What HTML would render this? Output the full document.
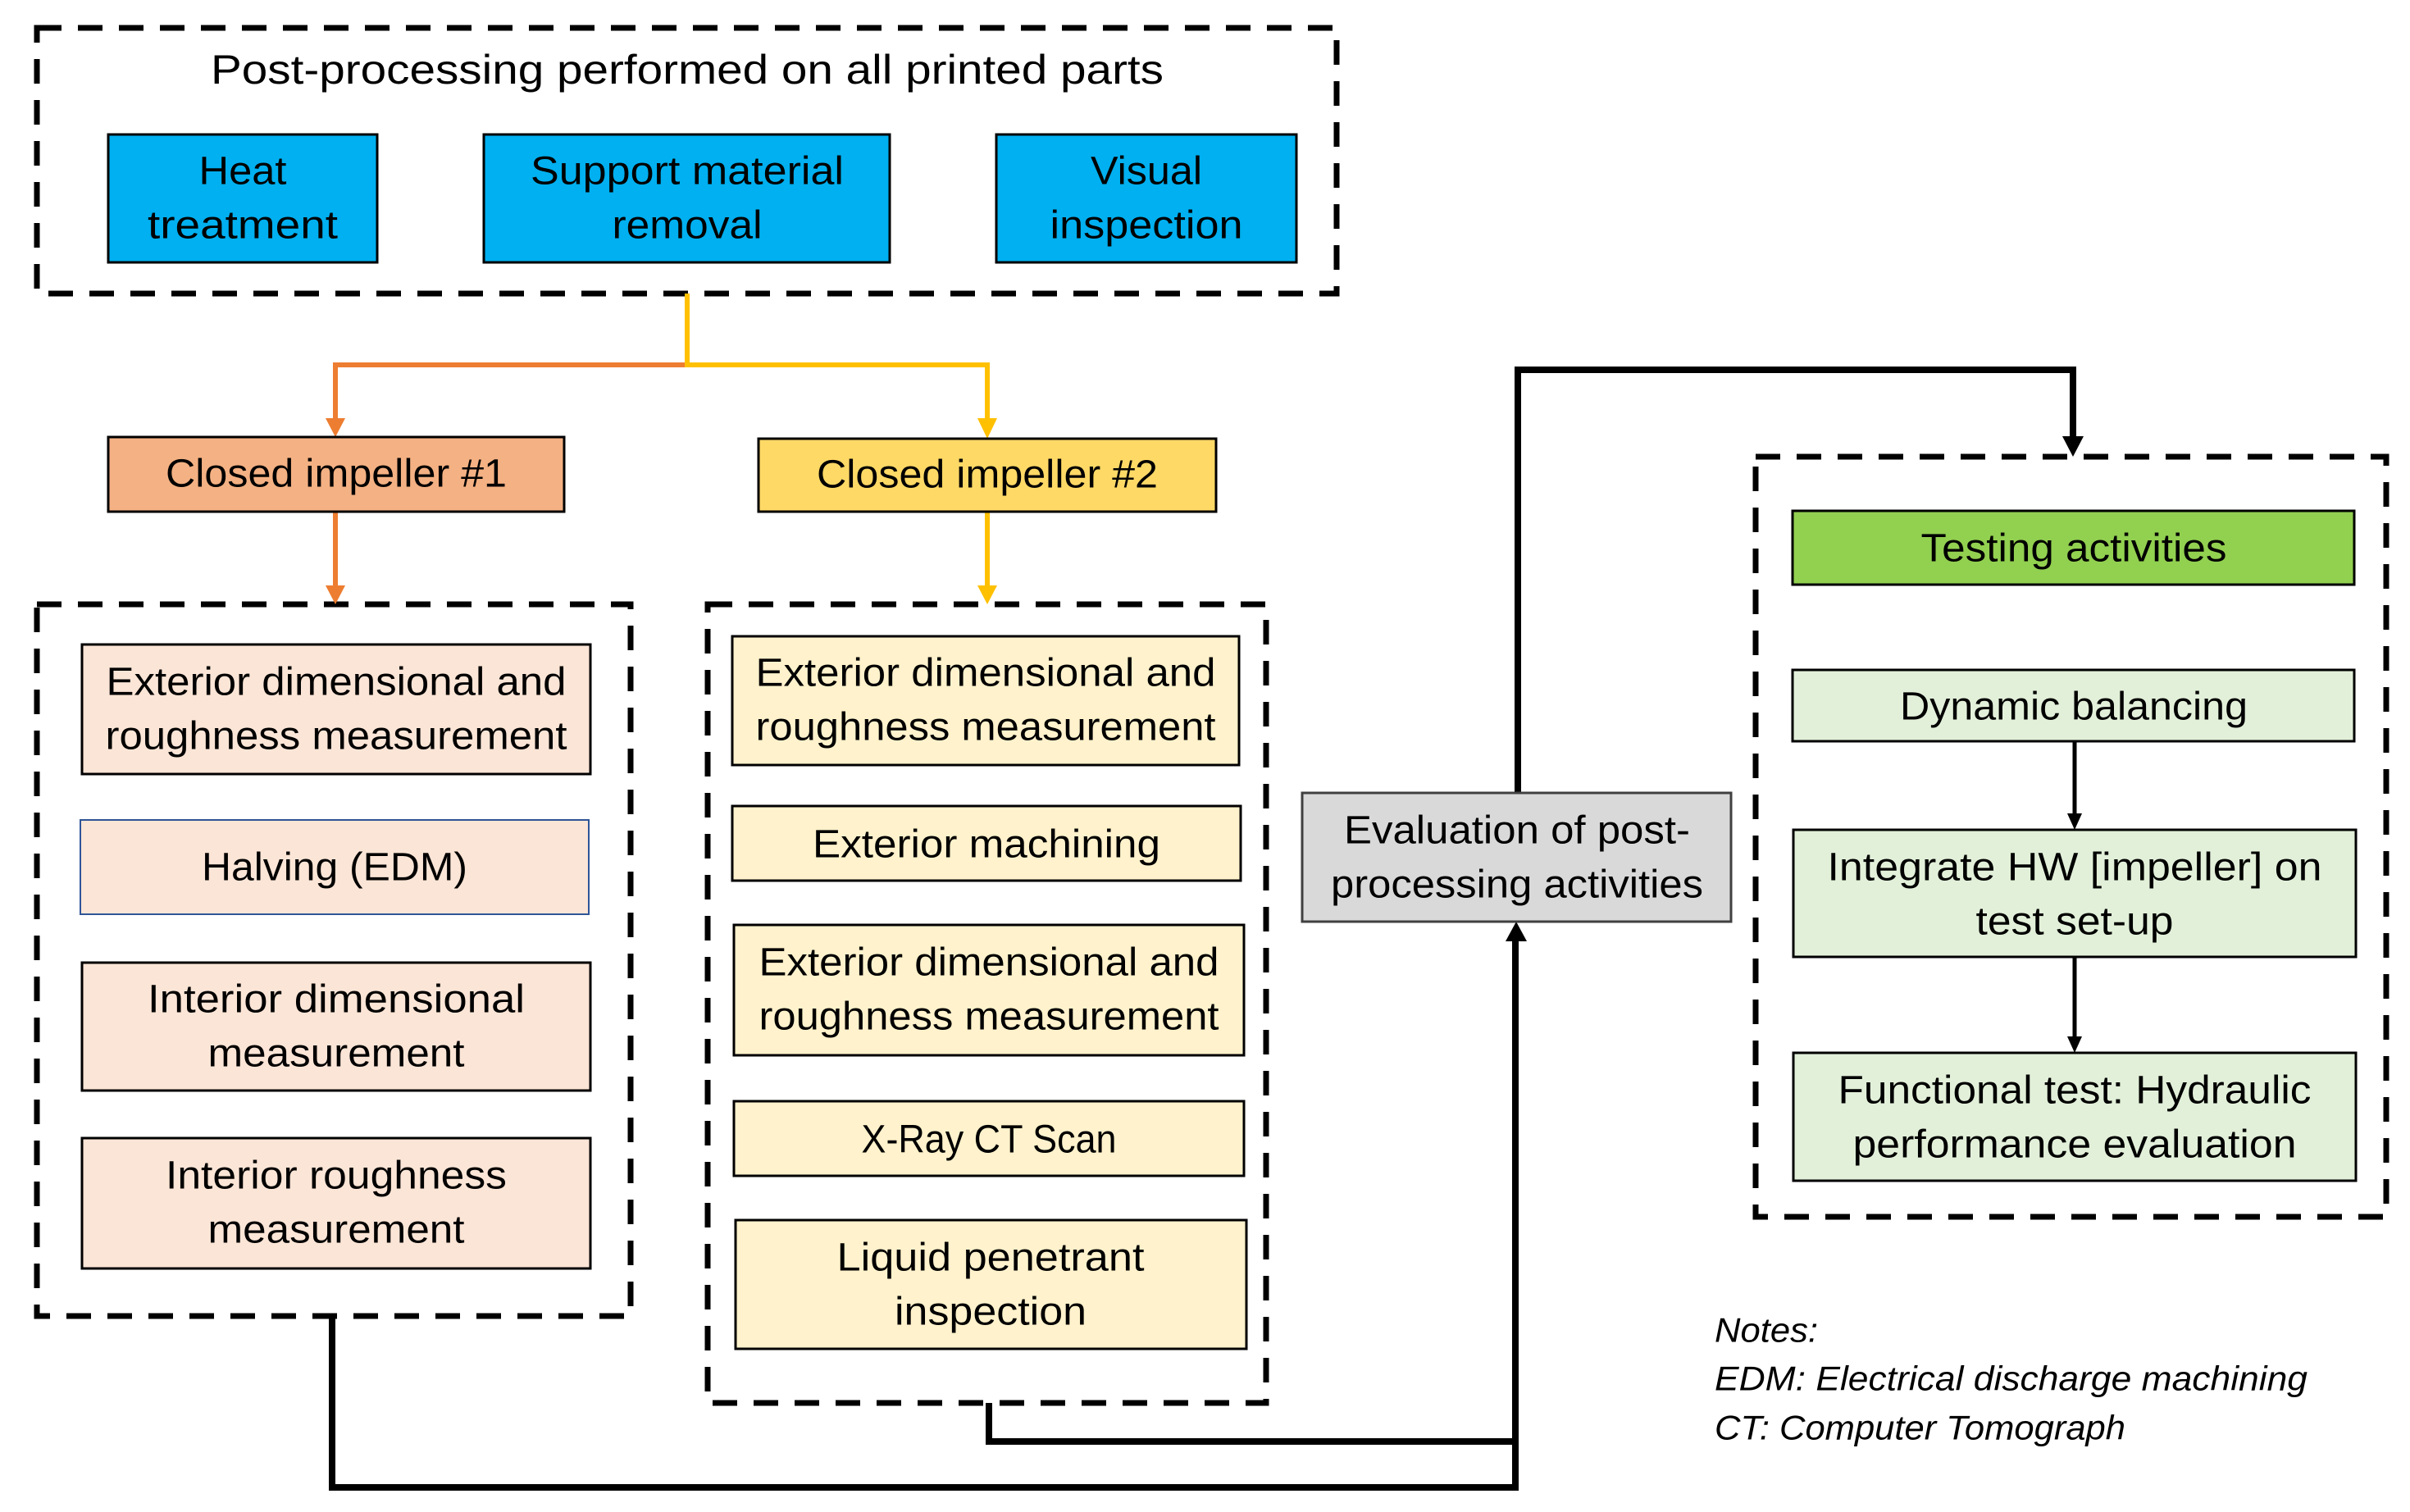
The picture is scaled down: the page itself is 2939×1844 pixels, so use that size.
<!DOCTYPE html>
<html><head><meta charset="utf-8"><style>
html,body{margin:0;padding:0;background:#fff;}
svg{display:block;}
text{font-family:"Liberation Sans",sans-serif;fill:#000;}
</style></head><body>
<svg width="2939" height="1844" viewBox="0 0 2939 1844" xmlns="http://www.w3.org/2000/svg">
<defs>
<marker id="ao" markerWidth="8" markerHeight="8" refX="4" refY="6" orient="auto" markerUnits="userSpaceOnUse" viewBox="0 0 8 8"><path d="M0,0 L8,0 L4,8 z" fill="#ED7D31"/></marker>
</defs>
<g fill="none" stroke="#000" stroke-width="7" stroke-dasharray="30 20">
<rect x="45" y="34" width="1585" height="324"/>
<rect x="45" y="737" width="724" height="868"/>
<rect x="863" y="737" width="681" height="974"/>
<rect x="2141" y="557" width="769" height="927"/>
</g>
<text x="838" y="85" font-size="50" text-anchor="middle" dominant-baseline="central" textLength="1162" lengthAdjust="spacingAndGlyphs">Post-processing performed on all printed parts</text>
<g stroke="#000" stroke-width="3" fill="#00B0F0">
<rect x="132" y="164" width="328" height="156"/>
<rect x="590" y="164" width="495" height="156"/>
<rect x="1215" y="164" width="366" height="156"/>
</g>
<g font-size="48" text-anchor="middle" dominant-baseline="central">
<text x="296" y="209" textLength="107" lengthAdjust="spacingAndGlyphs">Heat</text>
<text x="296" y="275" textLength="232" lengthAdjust="spacingAndGlyphs">treatment</text>
<text x="838" y="209" textLength="382" lengthAdjust="spacingAndGlyphs">Support material</text>
<text x="838" y="275" textLength="183" lengthAdjust="spacingAndGlyphs">removal</text>
<text x="1398" y="209" textLength="136" lengthAdjust="spacingAndGlyphs">Visual</text>
<text x="1398" y="275" textLength="235" lengthAdjust="spacingAndGlyphs">inspection</text>
</g>
<!-- colored connectors -->
<polyline points="838,445 409,445 409,515" fill="none" stroke="#ED7D31" stroke-width="6"/>
<polygon points="397,510 421,510 409,533" fill="#ED7D31"/>
<polyline points="838,358 838,445 1204,445 1204,515" fill="none" stroke="#FFC000" stroke-width="6"/>
<polygon points="1192,510 1216,510 1204,535" fill="#FFC000"/>
<line x1="409" y1="624" x2="409" y2="718" stroke="#ED7D31" stroke-width="6"/>
<polygon points="397,714 421,714 409,737" fill="#ED7D31"/>
<line x1="1204" y1="624" x2="1204" y2="718" stroke="#FFC000" stroke-width="6"/>
<polygon points="1192,714 1216,714 1204,737" fill="#FFC000"/>
<g stroke="#000" stroke-width="3">
<rect x="132" y="533" width="556" height="91" fill="#F4B183"/>
<rect x="925" y="535" width="558" height="89" fill="#FFD966"/>
</g>
<g font-size="48" text-anchor="middle" dominant-baseline="central">
<text x="410" y="578" textLength="416" lengthAdjust="spacingAndGlyphs">Closed impeller #1</text>
<text x="1204" y="579" textLength="416" lengthAdjust="spacingAndGlyphs">Closed impeller #2</text>
</g>
<!-- left boxes -->
<g stroke="#000" stroke-width="3" fill="#FBE5D6">
<rect x="100" y="786" width="620" height="158"/>
<rect x="98" y="1000" width="620" height="115" stroke="#2F5597" stroke-width="2"/>
<rect x="100" y="1174" width="620" height="156"/>
<rect x="100" y="1388" width="620" height="159"/>
</g>
<g stroke="#000" stroke-width="3" fill="#FFF2CC">
<rect x="893" y="776" width="618" height="157"/>
<rect x="893" y="983" width="620" height="91"/>
<rect x="895" y="1128" width="622" height="159"/>
<rect x="895" y="1343" width="622" height="91"/>
<rect x="897" y="1488" width="623" height="157"/>
</g>
<g font-size="48" text-anchor="middle" dominant-baseline="central">
<text x="410" y="832" textLength="561" lengthAdjust="spacingAndGlyphs">Exterior dimensional and</text>
<text x="410" y="898" textLength="563" lengthAdjust="spacingAndGlyphs">roughness measurement</text>
<text x="408" y="1058" textLength="324" lengthAdjust="spacingAndGlyphs">Halving (EDM)</text>
<text x="410" y="1219" textLength="460" lengthAdjust="spacingAndGlyphs">Interior dimensional</text>
<text x="410" y="1285" textLength="313" lengthAdjust="spacingAndGlyphs">measurement</text>
<text x="410" y="1434" textLength="416" lengthAdjust="spacingAndGlyphs">Interior roughness</text>
<text x="410" y="1500" textLength="313" lengthAdjust="spacingAndGlyphs">measurement</text>
<text x="1202" y="821" textLength="561" lengthAdjust="spacingAndGlyphs">Exterior dimensional and</text>
<text x="1202" y="887" textLength="561" lengthAdjust="spacingAndGlyphs">roughness measurement</text>
<text x="1203" y="1030" textLength="424" lengthAdjust="spacingAndGlyphs">Exterior machining</text>
<text x="1206" y="1174" textLength="561" lengthAdjust="spacingAndGlyphs">Exterior dimensional and</text>
<text x="1206" y="1240" textLength="561" lengthAdjust="spacingAndGlyphs">roughness measurement</text>
<text x="1206" y="1390" textLength="311" lengthAdjust="spacingAndGlyphs">X-Ray CT Scan</text>
<text x="1208" y="1534" textLength="375" lengthAdjust="spacingAndGlyphs">Liquid penetrant</text>
<text x="1208" y="1600" textLength="234" lengthAdjust="spacingAndGlyphs">inspection</text>
</g>
<!-- black connectors -->
<g fill="none" stroke="#000" stroke-width="8">
<polyline points="405,1605 405,1814 1848,1814 1848,1145"/>
<polyline points="1206,1711 1206,1758 1848,1758"/>
<polyline points="1851,967 1851,451 2528,451 2528,535"/>
</g>
<polygon points="1836,1148 1862,1148 1849,1124" fill="#000"/>
<polygon points="2515,532 2541,532 2528,557" fill="#000"/>
<rect x="1588" y="967" width="523" height="157" fill="#D9D9D9" stroke="#404040" stroke-width="3"/>
<g font-size="48" text-anchor="middle" dominant-baseline="central">
<text x="1850" y="1013" textLength="422" lengthAdjust="spacingAndGlyphs">Evaluation of post-</text>
<text x="1850" y="1079" textLength="454" lengthAdjust="spacingAndGlyphs">processing activities</text>
</g>
<!-- testing -->
<g stroke="#000" stroke-width="3">
<rect x="2186" y="623" width="685" height="90" fill="#92D050"/>
<rect x="2186" y="817" width="685" height="87" fill="#E2F0D9"/>
<rect x="2187" y="1012" width="686" height="155" fill="#E2F0D9"/>
<rect x="2187" y="1284" width="686" height="156" fill="#E2F0D9"/>
</g>
<g stroke="#000" stroke-width="5">
<line x1="2530" y1="904" x2="2530" y2="995"/>
<line x1="2530" y1="1167" x2="2530" y2="1267"/>
</g>
<polygon points="2521,992 2539,992 2530,1012" fill="#000"/>
<polygon points="2521,1264 2539,1264 2530,1284" fill="#000"/>
<g font-size="48" text-anchor="middle" dominant-baseline="central">
<text x="2529" y="669" textLength="373" lengthAdjust="spacingAndGlyphs">Testing activities</text>
<text x="2529" y="862" textLength="424" lengthAdjust="spacingAndGlyphs">Dynamic balancing</text>
<text x="2530" y="1058" textLength="603" lengthAdjust="spacingAndGlyphs">Integrate HW [impeller] on</text>
<text x="2530" y="1124" textLength="241" lengthAdjust="spacingAndGlyphs">test set-up</text>
<text x="2530" y="1330" textLength="577" lengthAdjust="spacingAndGlyphs">Functional test: Hydraulic</text>
<text x="2530" y="1396" textLength="541" lengthAdjust="spacingAndGlyphs">performance evaluation</text>
</g>
<g font-size="42" font-style="italic" dominant-baseline="central" fill="#222">
<text x="2091" y="1622" textLength="126" lengthAdjust="spacingAndGlyphs">Notes:</text>
<text x="2091" y="1681" textLength="723" lengthAdjust="spacingAndGlyphs">EDM: Electrical discharge machining</text>
<text x="2091" y="1741" textLength="501" lengthAdjust="spacingAndGlyphs">CT: Computer Tomograph</text>
</g>
</svg>
</body></html>
